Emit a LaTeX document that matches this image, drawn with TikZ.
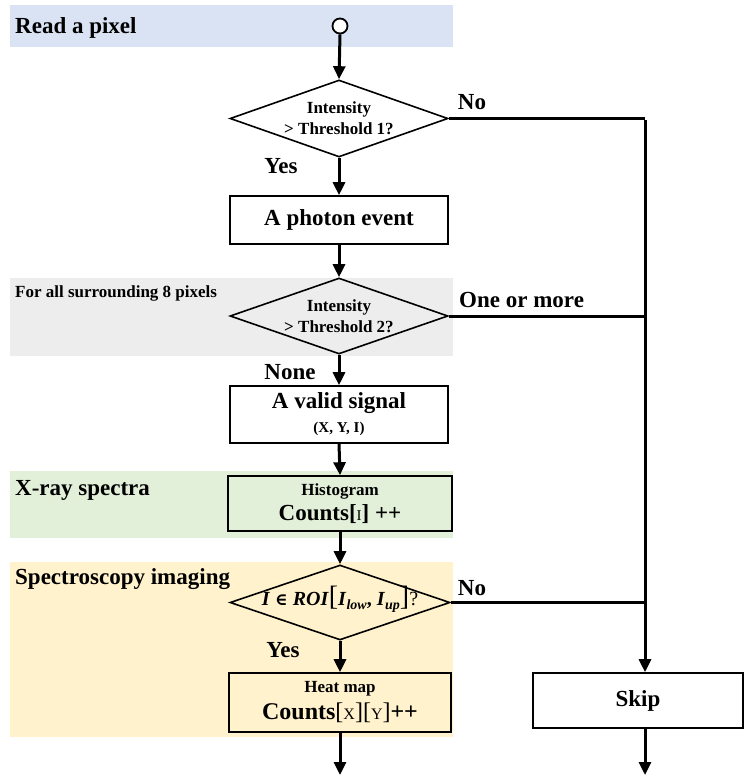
\documentclass[tikz,border=0pt]{standalone}
\usepackage{fontspec}
\setmainfont{Liberation Serif}
\newfontfamily\symfont{DejaVu Serif}
\usetikzlibrary{shapes.geometric,arrows.meta}
\definecolor{bandblue}{HTML}{DAE3F3}
\definecolor{bandgray}{HTML}{EDEDED}
\definecolor{bandgreen}{HTML}{E2F0D9}
\definecolor{bandorange}{HTML}{FFF2CC}
\newcommand\myfs[1]{\fontsize{#1}{#1}\selectfont}
\newcommand\roitext{\textit{I} {\symfont\myfs{17}∈} \textit{ROI}{\mdseries\myfs{28}[}\textit{I}\raisebox{-4pt}{\myfs{14}\textit{low}}, \textit{I}\raisebox{-4pt}{\myfs{14}\textit{up}}{\mdseries\myfs{28}]}{\mdseries ?}}
\begin{document}
\begin{tikzpicture}[x=1pt,y=-1pt,font=\bfseries,
  box/.style={draw,line width=1.6pt,fill=white,inner sep=0pt,align=center,font=\bfseries\myfs{23}},
  dec/.style={diamond,draw,line width=1.6pt,inner sep=0pt,align=center,aspect=2.85,font=\bfseries\myfs{17}},
  flow/.style={line width=3pt,-{Triangle[width=12pt,length=13pt]}},
  plain/.style={line width=3pt},
  lbl/.style={font=\bfseries\myfs{23},inner sep=0pt},
  band/.style={inner sep=0pt,anchor=west}]
\useasboundingbox (0,0) rectangle (745,775);
% background bands
\fill[bandblue]   (10,5)   rectangle (453,47);
\fill[bandgray]   (10,278) rectangle (453,356);
\fill[bandgreen]  (10,471) rectangle (453,538);
\fill[bandorange] (10,562) rectangle (453,737);
% band labels
\node[band,font=\bfseries\myfs{23}] (lread) at (15,28) {Read a pixel};
\node[band,font=\bfseries\myfs{17}] (lsurr) at (15,293) {For all surrounding 8 pixels};
\node[band,font=\bfseries\myfs{23}] (lxray) at (15,490) {X-ray spectra};
\node[band,font=\bfseries\myfs{23}] (lspec) at (15,579) {Spectroscopy imaging};
% nodes
\node[circle,draw,line width=1.8pt,fill=white,minimum size=15pt,inner sep=0pt] (start) at (340,26) {};
\node[dec,minimum width=218pt,minimum height=77pt] (d1) at (339,118.5) {Intensity\\[4pt]{>} Threshold 1?};
\node[box,minimum width=218pt,minimum height=48pt] (b1) at (339,220) {A photon event};
\node[dec,fill=bandgray,minimum width=218pt,minimum height=76pt] (d2) at (339,316) {Intensity\\[4pt]{>} Threshold 2?};
\node[box,minimum width=218pt,minimum height=57pt] (b2) at (339,414.5) {A valid signal\\[1pt]{\myfs{15}(X, Y, I)}};
\node[box,fill=bandgreen,minimum width=224pt,minimum height=55pt] (b3) at (340,503.5) {{\myfs{17}Histogram}\\[2pt]{\myfs{23}Counts[{\mdseries\myfs{15}I}] ++}};
\node[dec,fill=bandorange,minimum width=220pt,minimum height=75pt,text height=8pt,text depth=2pt,font=\bfseries\myfs{20}] (d3) at (340,602.5) {\roitext};
\node[box,fill=bandorange,minimum width=222pt,minimum height=59pt] (b4) at (340,702.5) {{\myfs{17}Heat map}\\[4pt]{\myfs{24}Counts{\mdseries[{\myfs{16}X}][{\myfs{16}Y}]}++}};
\node[box,minimum width=210pt,minimum height=55pt] (skip) at (638,700.5) {Skip};
% branch labels
\node[lbl] (no1) at (472,102) {No};
\node[lbl] (yes1) at (281,166) {Yes};
\node[lbl,anchor=west] (more) at (459,300) {One or more};
\node[lbl] (none) at (290,372) {None};
\node[lbl] (no3) at (472,588) {No};
\node[lbl] (yes3) at (283,650) {Yes};
% junctions
\coordinate (r1) at (645,118.5);
\coordinate (r2) at (645,316);
\coordinate (r3) at (645,602.5);
\coordinate (end1) at (340,775);
\coordinate (end2) at (645,775);
% connectors
\draw[flow] (start.south) -- (d1.north);
\draw[flow] (d1.south) -- (b1.north -| d1.south);
\draw[flow] (b1.south -| d1.south) -- (d2.north);
\draw[flow] (d2.south) -- (b2.north -| d2.south);
\draw[flow] (b2.south -| d2.south) -- (b3.north);
\draw[flow] (b3.south) -- (d3.north);
\draw[flow] (d3.south) -- (b4.north);
\draw[flow] (b4.south) -- (end1);
\draw[plain] (d1.east) -- (r1);
\draw[plain] (d2.east) -- (r2);
\draw[plain] (d3.east) -- (r3);
\draw[flow] ([yshift=-1.5pt]r1) -- (r1 |- skip.north);
\draw[flow] (skip.south -| r1) -- (end2);
\end{tikzpicture}
\end{document}
